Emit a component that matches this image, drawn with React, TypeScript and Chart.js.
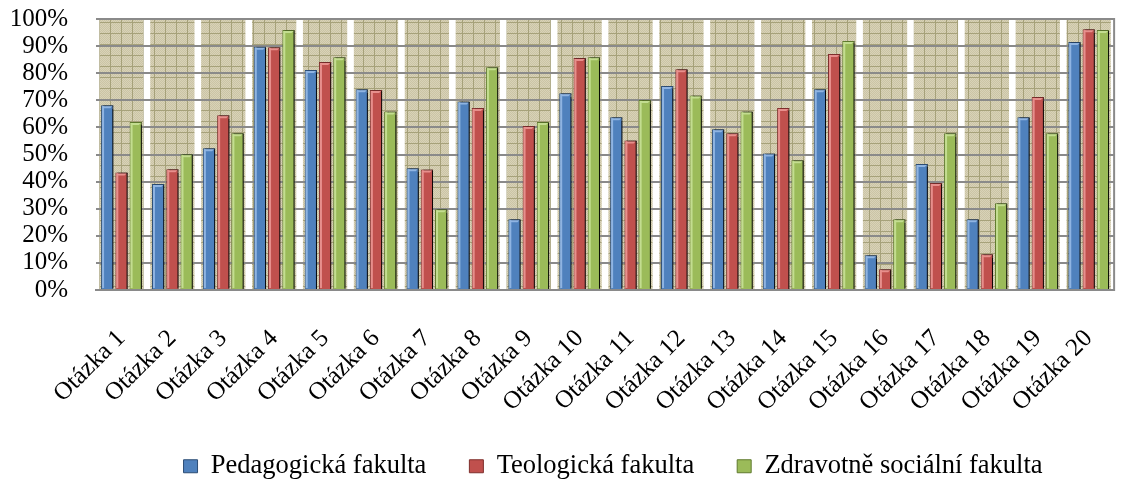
import React, { useEffect, useRef } from "react";
import { Chart, registerables } from "chart.js";

Chart.register(...registerables);

const categories = [
  "Otázka 1", "Otázka 2", "Otázka 3", "Otázka 4", "Otázka 5",
  "Otázka 6", "Otázka 7", "Otázka 8", "Otázka 9", "Otázka 10",
  "Otázka 11", "Otázka 12", "Otázka 13", "Otázka 14", "Otázka 15",
  "Otázka 16", "Otázka 17", "Otázka 18", "Otázka 19", "Otázka 20",
];

const seriesNames = ["Pedagogická fakulta", "Teologická fakulta", "Zdravotně sociální fakulta"];

const pedagogicka = [68.2, 39.1, 52.3, 89.8, 81.2, 74.1, 44.9, 69.6, 26.1, 72.6, 63.7, 75.3, 59.3, 50.4, 74.1, 12.8, 46.5, 26.1, 63.7, 91.5];
const teologicka = [43.4, 44.6, 64.5, 89.6, 84.1, 73.8, 44.5, 67.2, 60.5, 85.6, 55.2, 81.5, 57.8, 67.2, 87.1, 7.7, 39.5, 13.2, 71.2, 96.2];
const zdravotne = [62.0, 50.1, 57.8, 95.9, 85.9, 65.9, 29.8, 82.2, 62.0, 85.9, 70.1, 71.8, 65.9, 47.9, 91.9, 26.1, 57.8, 32.0, 57.8, 95.9];

const yMin = 0;
const yMax = 100;
const yStep = 10;

const FONT = "'Liberation Serif', 'Times New Roman', serif";

function makePattern(): CanvasPattern | string {
  const c = document.createElement("canvas");
  const s = 11;
  c.width = s;
  c.height = s;
  const g = c.getContext("2d");
  if (!g) return "#d6d0b4";
  g.fillStyle = "#d8d2b8";
  g.fillRect(0, 0, s, s);
  for (let y = 0; y < s; y++) {
    for (let x = 0; x < s; x++) {
      if ((x + y) % 2 === 0) {
        g.fillStyle = "#cbc4a5";
        g.fillRect(x, y, 1, 1);
      }
    }
  }
  g.fillStyle = "#a6a17a";
  g.fillRect(0, 0, s, 1);
  g.fillRect(0, 0, 1, s);
  const p = g.createPattern(c, "repeat");
  return p || "#d6d0b4";
}

const bandsPlugin = {
  id: "bands",
  afterLayout(chart: any) {
    const lg = chart.legend;
    if (lg) {
      lg.top -= 20;
      lg.bottom = chart.height;
      lg.height = lg.bottom - lg.top;
      lg.left += 8;
      lg.right += 8;
    }
  },
  beforeDraw(chart: any) {
    const { ctx, chartArea, scales } = chart;
    const xs = scales.x;
    if (!chartArea || !xs) return;
    const n = categories.length;
    const catW = (xs.right - xs.left) / n;
    const bw = catW * 0.87;
    ctx.save();
    ctx.fillStyle = makePattern();
    for (let i = 0; i < n; i++) {
      const cx = xs.getPixelForTick(i);
      ctx.fillRect(cx - bw / 2, chartArea.top, bw, chartArea.bottom - chartArea.top);
    }
    ctx.restore();
  },
  afterDraw(chart: any) {
    const { ctx, chartArea } = chart;
    ctx.save();
    ctx.strokeStyle = "#8a8a8a";
    ctx.lineWidth = 2;
    ctx.beginPath();
    ctx.moveTo(chartArea.right, chartArea.top - 1);
    ctx.lineTo(chartArea.right, chartArea.bottom + 1);
    ctx.stroke();
    ctx.restore();
  },
};

const shadowPlugin = {
  id: "barShadow",
  beforeDatasetsDraw(chart: any) {
    const ctx = chart.ctx;
    ctx.save();
    ctx.shadowColor = "rgba(0,0,0,0.9)";
    ctx.shadowOffsetX = 2;
    ctx.shadowOffsetY = 0;
    ctx.shadowBlur = 1;
  },
  afterDatasetsDraw(chart: any) {
    chart.ctx.restore();
    const ctx = chart.ctx;
    const lights = ["rgba(150,185,230,0.9)", "rgba(235,150,148,0.9)", "rgba(200,225,150,0.9)"];
    chart.data.datasets.forEach((_d: any, di: number) => {
      const meta = chart.getDatasetMeta(di);
      meta.data.forEach((bar: any) => {
        const left = bar.x - bar.width / 2;
        ctx.save();
        ctx.fillStyle = lights[di];
        ctx.fillRect(left + 1, bar.y + 1, 2, bar.base - bar.y - 2);
        ctx.beginPath();
        ctx.moveTo(left + 1, bar.y + 1);
        ctx.lineTo(left + bar.width - 1, bar.y + 1);
        ctx.lineTo(left + bar.width - 3, bar.y + 3);
        ctx.lineTo(left + 3, bar.y + 3);
        ctx.closePath();
        ctx.fill();
        ctx.restore();
      });
    });
  },
};

export default function App() {
  const ref = useRef<HTMLCanvasElement | null>(null);

  useEffect(() => {
    document.body.style.margin = "0";
    const canvas = ref.current;
    if (!canvas) return;
    const chart = new Chart(canvas, {
      type: "bar",
      data: {
        labels: categories,
        datasets: [
          {
            label: seriesNames[0],
            data: pedagogicka,
            backgroundColor: "#4f81bd",
            borderColor: "#2c4d75",
            borderWidth: 1,
          },
          {
            label: seriesNames[1],
            data: teologicka,
            backgroundColor: "#c0504d",
            borderColor: "#7f2f2d",
            borderWidth: 1,
          },
          {
            label: seriesNames[2],
            data: zdravotne,
            backgroundColor: "#9bbb59",
            borderColor: "#5f7a2e",
            borderWidth: 1,
          },
        ],
      },
      options: {
        responsive: false,
        animation: false,
        devicePixelRatio: 1,
        datasets: {
          bar: {
            categoryPercentage: 0.84,
            barPercentage: 0.86,
          },
        },
        layout: {
          padding: { left: 0, right: 5, top: 19, bottom: 0 },
        },
        plugins: {
          tooltip: { enabled: false },
          legend: {
            position: "bottom",
            fullSize: false,
            maxHeight: 50,
            labels: {
              boxWidth: 14,
              boxHeight: 13,
              padding: 43,
              color: "#000",
              font: { family: FONT, size: 26.5 },
            },
          },
        },
        scales: {
          x: {
            grid: { display: false },
            border: { display: true, color: "#8a8a8a", width: 2 },
            ticks: {
              autoSkip: false,
              maxRotation: 45,
              minRotation: 45,
              padding: 26,
              color: "#000",
              font: { family: FONT, size: 25 },
            },
            afterFit(scale: any) {
              scale.height = 140;
            },
          },
          y: {
            min: yMin,
            max: yMax,
            grid: {
              color: "#8a8a8a",
              lineWidth: 2,
              drawTicks: true,
              tickLength: 28,
              tickColor: "rgba(0,0,0,0)",
            },
            border: { display: false },
            ticks: {
              stepSize: yStep,
              autoSkip: false,
              padding: 0,
              color: "#000",
              font: { family: FONT, size: 25 },
              callback: (v: any) => `${v}%`,
            },
            afterFit(scale: any) {
              scale.width = 96;
            },
          },
        },
      },
      plugins: [bandsPlugin, shadowPlugin],
    });
    return () => chart.destroy();
  }, []);

  return (
    <div style={{ position: "absolute", left: 0, top: 0, width: 1136, height: 480 }}>
      <canvas ref={ref} width={1136} height={480} style={{ display: "block" }} />
    </div>
  );
}
